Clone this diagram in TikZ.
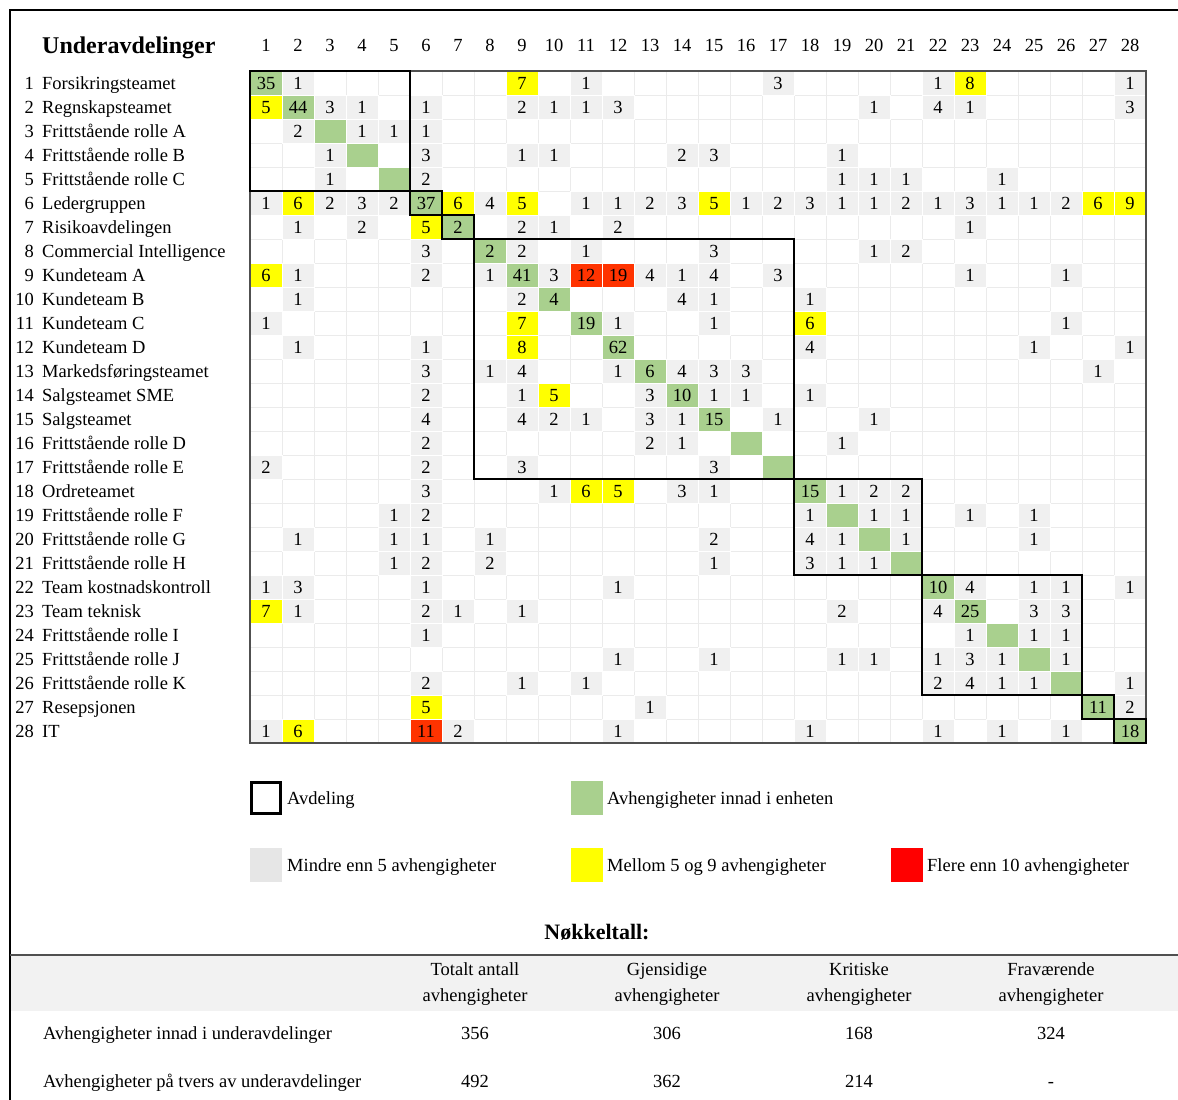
\documentclass[tikz,border=0pt]{standalone}
\usepackage{fontspec}
\setmainfont{Liberation Serif}
\definecolor{cn}{HTML}{F0F0F0}
\definecolor{cy}{HTML}{FFFF00}
\definecolor{cr}{HTML}{FF3300}
\definecolor{cg}{HTML}{A9D08E}
\definecolor{gridc}{HTML}{EBEBEB}
\definecolor{legred}{HTML}{FF0000}
\definecolor{leggray}{HTML}{E6E6E6}
\definecolor{hdrgray}{HTML}{F2F2F2}
\definecolor{bordergray}{HTML}{505050}
\begin{document}
\begin{tikzpicture}[x=1pt,y=-1pt,
  txt/.style={font=\fontsize{18.5}{22}\selectfont, inner sep=0pt, anchor=base},
  lefttxt/.style={txt, anchor=base west},
  numtxt/.style={txt, anchor=base east},
  titletxt/.style={font=\fontsize{24}{28}\selectfont\bfseries, inner sep=0pt, anchor=base west},
  hdrtxt/.style={font=\fontsize{18.5}{26}\selectfont, inner sep=0pt, align=center},
  avd/.style={draw=black, line width=2.5pt},
  cellfill/.style={draw=white, line width=1pt}]
\useasboundingbox (0,0) rectangle (1178,1100);
% outer frame
\draw[line width=2.5pt] (10,1100) -- (10,10) -- (1178,10);
% title and column headers
\node[titletxt] (title) at (42,53) {Underavdelinger};
\foreach \c in {1,...,28} {
  \node[txt] (h\c) at ({234+32*\c},51.3) {\c};
}
% row labels
\foreach \r/\name in {1/Forsikringsteamet,2/Regnskapsteamet,3/Frittstående rolle A,4/Frittstående rolle B,5/Frittstående rolle C,6/Ledergruppen,7/Risikoavdelingen,8/Commercial Intelligence,9/Kundeteam A,10/Kundeteam B,11/Kundeteam C,12/Kundeteam D,13/Markedsføringsteamet,14/Salgsteamet SME,15/Salgsteamet,16/Frittstående rolle D,17/Frittstående rolle E,18/Ordreteamet,19/Frittstående rolle F,20/Frittstående rolle G,21/Frittstående rolle H,22/Team kostnadskontroll,23/Team teknisk,24/Frittstående rolle I,25/Frittstående rolle J,26/Frittstående rolle K,27/Resepsjonen,28/IT} {
  \node[numtxt] (rn\r) at (34,{65.3+24*\r}) {\r};
  \node[lefttxt] (rl\r) at (42,{65.3+24*\r}) {\name};
}
% grid
\foreach \c in {0,...,28} { \draw[gridc, line width=1pt] ({250+32*\c},71) -- ({250+32*\c},743); }
\foreach \r in {0,...,28} { \draw[gridc, line width=1pt] (250,{71+24*\r}) -- (1146,{71+24*\r}); }
% diagonal
\foreach \d in {1,...,28} { \fill[fill=cg, cellfill] ({250+32*(\d-1)},{71+24*(\d-1)}) rectangle ++(32,24); }
% cells
\foreach \r/\c/\v/\t in {
1/1/35/g,1/2/1/n,1/9/7/y,1/11/1/n,1/17/3/n,1/22/1/n,1/23/8/y,1/28/1/n,
2/1/5/y,2/2/44/g,2/3/3/n,2/4/1/n,2/6/1/n,2/9/2/n,2/10/1/n,2/11/1/n,2/12/3/n,2/20/1/n,2/22/4/n,2/23/1/n,2/28/3/n,
3/2/2/n,3/4/1/n,3/5/1/n,3/6/1/n,
4/3/1/n,4/6/3/n,4/9/1/n,4/10/1/n,4/14/2/n,4/15/3/n,4/19/1/n,
5/3/1/n,5/6/2/n,5/19/1/n,5/20/1/n,5/21/1/n,5/24/1/n,
6/1/1/n,6/2/6/y,6/3/2/n,6/4/3/n,6/5/2/n,6/6/37/g,6/7/6/y,6/8/4/n,6/9/5/y,6/11/1/n,6/12/1/n,6/13/2/n,6/14/3/n,6/15/5/y,6/16/1/n,6/17/2/n,6/18/3/n,6/19/1/n,6/20/1/n,6/21/2/n,6/22/1/n,6/23/3/n,6/24/1/n,6/25/1/n,6/26/2/n,6/27/6/y,6/28/9/y,
7/2/1/n,7/4/2/n,7/6/5/y,7/7/2/g,7/9/2/n,7/10/1/n,7/12/2/n,7/23/1/n,
8/6/3/n,8/8/2/g,8/9/2/n,8/11/1/n,8/15/3/n,8/20/1/n,8/21/2/n,
9/1/6/y,9/2/1/n,9/6/2/n,9/8/1/n,9/9/41/g,9/10/3/n,9/11/12/r,9/12/19/r,9/13/4/n,9/14/1/n,9/15/4/n,9/17/3/n,9/23/1/n,9/26/1/n,
10/2/1/n,10/9/2/n,10/10/4/g,10/14/4/n,10/15/1/n,10/18/1/n,
11/1/1/n,11/9/7/y,11/11/19/g,11/12/1/n,11/15/1/n,11/18/6/y,11/26/1/n,
12/2/1/n,12/6/1/n,12/9/8/y,12/12/62/g,12/18/4/n,12/25/1/n,12/28/1/n,
13/6/3/n,13/8/1/n,13/9/4/n,13/12/1/n,13/13/6/g,13/14/4/n,13/15/3/n,13/16/3/n,13/27/1/n,
14/6/2/n,14/9/1/n,14/10/5/y,14/13/3/n,14/14/10/g,14/15/1/n,14/16/1/n,14/18/1/n,
15/6/4/n,15/9/4/n,15/10/2/n,15/11/1/n,15/13/3/n,15/14/1/n,15/15/15/g,15/17/1/n,15/20/1/n,
16/6/2/n,16/13/2/n,16/14/1/n,16/19/1/n,
17/1/2/n,17/6/2/n,17/9/3/n,17/15/3/n,
18/6/3/n,18/10/1/n,18/11/6/y,18/12/5/y,18/14/3/n,18/15/1/n,18/18/15/g,18/19/1/n,18/20/2/n,18/21/2/n,
19/5/1/n,19/6/2/n,19/18/1/n,19/20/1/n,19/21/1/n,19/23/1/n,19/25/1/n,
20/2/1/n,20/5/1/n,20/6/1/n,20/8/1/n,20/15/2/n,20/18/4/n,20/19/1/n,20/21/1/n,20/25/1/n,
21/5/1/n,21/6/2/n,21/8/2/n,21/15/1/n,21/18/3/n,21/19/1/n,21/20/1/n,
22/1/1/n,22/2/3/n,22/6/1/n,22/12/1/n,22/22/10/g,22/23/4/n,22/25/1/n,22/26/1/n,22/28/1/n,
23/1/7/y,23/2/1/n,23/6/2/n,23/7/1/n,23/9/1/n,23/19/2/n,23/22/4/n,23/23/25/g,23/25/3/n,23/26/3/n,
24/6/1/n,24/23/1/n,24/25/1/n,24/26/1/n,
25/12/1/n,25/15/1/n,25/19/1/n,25/20/1/n,25/22/1/n,25/23/3/n,25/24/1/n,25/26/1/n,
26/6/2/n,26/9/1/n,26/11/1/n,26/22/2/n,26/23/4/n,26/24/1/n,26/25/1/n,26/28/1/n,
27/6/5/y,27/13/1/n,27/27/11/g,27/28/2/n,
28/1/1/n,28/2/6/y,28/6/11/r,28/7/2/n,28/12/1/n,28/18/1/n,28/22/1/n,28/24/1/n,28/26/1/n,28/28/18/g} {
  \fill[fill=c\t, cellfill] ({250+32*(\c-1)},{71+24*(\r-1)}) rectangle ++(32,24);
  \node[txt] (v\r-\c) at ({234+32*\c},{65.3+24*\r}) {\v};
}
% matrix border
\draw[bordergray, line width=1.3pt] (250,71) rectangle (1146,743);
% departments
\draw[avd] (250,71) rectangle (410,191);
\draw[avd] (410,191) rectangle (442,215);
\draw[avd] (442,215) rectangle (474,239);
\draw[avd] (474,239) rectangle (794,479);
\draw[avd] (794,479) rectangle (922,575);
\draw[avd] (922,575) rectangle (1082,695);
\draw[avd] (1082,695) rectangle (1114,719);
\draw[avd] (1114,719) rectangle (1146,743);
% legend
\draw[avd] (251.5,782.5) rectangle (280.5,813.5);
\node[lefttxt] (l1) at (287,804.3) {Avdeling};
\fill[cg] (571,781) rectangle (603,815);
\node[lefttxt] (l2) at (607,804.3) {Avhengigheter innad i enheten};
\fill[leggray] (250,848) rectangle (282,882);
\node[lefttxt] (l3) at (287,871.3) {Mindre enn 5 avhengigheter};
\fill[cy] (571,848) rectangle (603,882);
\node[lefttxt] (l4) at (607,871.3) {Mellom 5 og 9 avhengigheter};
\fill[legred] (891,848) rectangle (923,882);
\node[lefttxt] (l5) at (927,871.3) {Flere enn 10 avhengigheter};
% key figures
\node[font=\fontsize{22}{26}\selectfont\bfseries, inner sep=0pt] (kt) at (597,932) {Nøkkeltall:};
\fill[hdrgray] (11,956) rectangle (1178,1011);
\draw[bordergray, line width=2.5pt] (10,955) -- (1178,955);
\node[hdrtxt] (t1) at (475,984) {Totalt antall\\avhengigheter};
\node[hdrtxt] (t2) at (667,984) {Gjensidige\\avhengigheter};
\node[hdrtxt] (t3) at (859,984) {Kritiske\\avhengigheter};
\node[hdrtxt] (t4) at (1051,984) {Fraværende\\avhengigheter};
\node[lefttxt] (ra) at (43,1039.3) {Avhengigheter innad i underavdelinger};
\node[txt] (ra1) at (475,1039.3) {356};
\node[txt] (ra2) at (667,1039.3) {306};
\node[txt] (ra3) at (859,1039.3) {168};
\node[txt] (ra4) at (1051,1039.3) {324};
\node[lefttxt] (rb) at (43,1087.3) {Avhengigheter på tvers av underavdelinger};
\node[txt] (rb1) at (475,1087.3) {492};
\node[txt] (rb2) at (667,1087.3) {362};
\node[txt] (rb3) at (859,1087.3) {214};
\node[txt] (rb4) at (1051,1087.3) {-};
\end{tikzpicture}
\end{document}
